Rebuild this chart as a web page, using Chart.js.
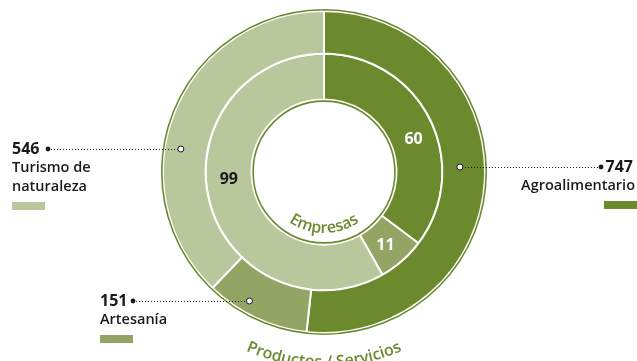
<!DOCTYPE html>
<html>
<head>
<meta charset="utf-8">
<script src="https://cdn.jsdelivr.net/npm/chart.js@4.4.0/dist/chart.umd.min.js"></script>
<style>
  html, body { margin: 0; padding: 0; background: #fff; }
  #wrap { width: 637px; height: 361px; position: relative; }
</style>
</head>
<body>
<div id="wrap"><canvas id="grafico"></canvas></div>
<script>
// datos
var categorias = ['Agroalimentario', 'Artesanía', 'Turismo de naturaleza'];
var productos = [747, 151, 546];   // anillo exterior: Productos / Servicios
var empresas = [60, 11, 99];       // anillo interior: Empresas
var colores = ['#6b8a2e', '#94a465', '#b9c79d'];
var tituloExterior = 'Productos / Servicios';
var tituloInterior = 'Empresas';

var verde = '#6b8a2e';
var texto = '#1a1a1a';

// etiquetas de las llamadas (lineas del texto y posicion)
var llamadas = [
    { i: 0, lineas: ['Agroalimentario'], y: 167, r: 136, lado: 'der', xTexto: 635, xPunto: 601 },
    { i: 1, lineas: ['Artesanía'], y: 301, r: 149, lado: 'izq', xTexto: 100, xPunto: 133 },
    { i: 2, lineas: ['Turismo de', 'naturaleza'], y: 149, r: 145, lado: 'izq', xTexto: 12, xPunto: 48 }
];

function textoCurvo(ctx, txt, cx, cy, radio, font, color) {
    ctx.save();
    ctx.font = font;
    ctx.fillStyle = color;
    ctx.textAlign = 'center';
    ctx.textBaseline = 'alphabetic';
    var total = ctx.measureText(txt).width;
    var ang = Math.PI / 2 + (total / 2) / radio;
    for (var k = 0; k < txt.length; k++) {
        var ch = txt[k];
        var w = ctx.measureText(ch).width;
        var a = ang - (w / 2) / radio;
        ctx.save();
        ctx.translate(cx + radio * Math.cos(a), cy + radio * Math.sin(a));
        ctx.rotate(a - Math.PI / 2);
        ctx.fillText(ch, 0, 0);
        ctx.restore();
        ang -= w / radio;
    }
    ctx.restore();
}

var extras = {
    id: 'extras',
    afterDraw: function (chart) {
        var ctx = chart.ctx;
        var ext = chart.getDatasetMeta(0).data;
        var int = chart.getDatasetMeta(1).data;
        var cx = ext[0].x, cy = ext[0].y;

        // contornos verdes
        ctx.save();
        ctx.strokeStyle = verde;
        ctx.lineWidth = 1.6;
        ctx.beginPath();
        ctx.arc(cx, cy, ext[0].outerRadius + 1.2, 0, Math.PI * 2);
        ctx.stroke();
        ctx.beginPath();
        ctx.arc(cx, cy, int[0].innerRadius - 1.6, 0, Math.PI * 2);
        ctx.stroke();
        ctx.restore();

        // titulos curvos
        textoCurvo(ctx, tituloInterior, cx, cy, 61, '600 16px "Open Sans"', verde);
        textoCurvo(ctx, tituloExterior, cx, cy, 195, '600 16px "Open Sans"', verde);

        // valores del anillo interior
        ctx.save();
        ctx.font = 'bold 16px "Open Sans"';
        ctx.textAlign = 'center';
        ctx.textBaseline = 'middle';
        int.forEach(function (arc, i) {
            var a = arc.startAngle + (arc.endAngle - arc.startAngle) * 0.55;
            var r = (arc.innerRadius + arc.outerRadius) / 2;
            ctx.fillStyle = i === 2 ? texto : '#ffffff';
            ctx.fillText(String(empresas[i]), cx + r * Math.cos(a), cy + r * Math.sin(a));
        });
        ctx.restore();

        // llamadas del anillo exterior
        llamadas.forEach(function (l) {
            var dy = l.y - cy;
            var dx = Math.sqrt(l.r * l.r - dy * dy);
            var mx = l.lado === 'der' ? cx + dx : cx - dx;
            ctx.save();
            ctx.strokeStyle = texto;
            ctx.lineWidth = 1;
            ctx.setLineDash([1, 2]);
            ctx.beginPath();
            ctx.moveTo(l.xPunto, l.y + 0.5);
            ctx.lineTo(mx, l.y + 0.5);
            ctx.stroke();
            ctx.setLineDash([]);
            ctx.fillStyle = texto;
            ctx.beginPath();
            ctx.arc(l.xPunto, l.y, 2.4, 0, Math.PI * 2);
            ctx.fill();
            ctx.fillStyle = '#ffffff';
            ctx.beginPath();
            ctx.arc(mx, l.y, 3, 0, Math.PI * 2);
            ctx.fill();
            ctx.stroke();

            ctx.fillStyle = texto;
            ctx.textBaseline = 'middle';
            var der = l.lado === 'der';
            ctx.font = 'bold 16px "Open Sans"';
            ctx.textAlign = der ? 'right' : 'left';
            var numX = der ? l.xTexto - 2 : l.xTexto;
            ctx.fillText(String(productos[l.i]), numX, l.y);
            ctx.font = '600 14.5px "Open Sans"';
            l.lineas.forEach(function (t, k) {
                ctx.fillText(t, l.xTexto, l.y + 19 + k * 19);
            });
            var sy = l.y + 19 * l.lineas.length + 15;
            ctx.fillStyle = colores[l.i];
            if (der) ctx.fillRect(l.xTexto - 31, sy, 33, 8);
            else ctx.fillRect(l.xTexto, sy, 33, 8);
            ctx.restore();
        });
    }
};

new Chart(document.getElementById('grafico'), {
    type: 'doughnut',
    data: {
        labels: categorias,
        datasets: [
            {
                label: tituloExterior,
                data: productos,
                backgroundColor: colores,
                borderColor: '#ffffff',
                borderWidth: 2,
                weight: 40
            },
            {
                label: tituloInterior,
                data: empresas,
                backgroundColor: colores,
                borderColor: '#ffffff',
                borderWidth: 2,
                weight: 43
            }
        ]
    },
    options: {
        responsive: true,
        maintainAspectRatio: false,
        animation: false,
        radius: 161,
        cutout: 77,
        layout: { padding: { left: 11, right: 0, top: 0, bottom: 17 } },
        plugins: {
            legend: { display: false },
            tooltip: { enabled: false }
        }
    },
    plugins: [extras]
});
</script>
</body>
</html>
